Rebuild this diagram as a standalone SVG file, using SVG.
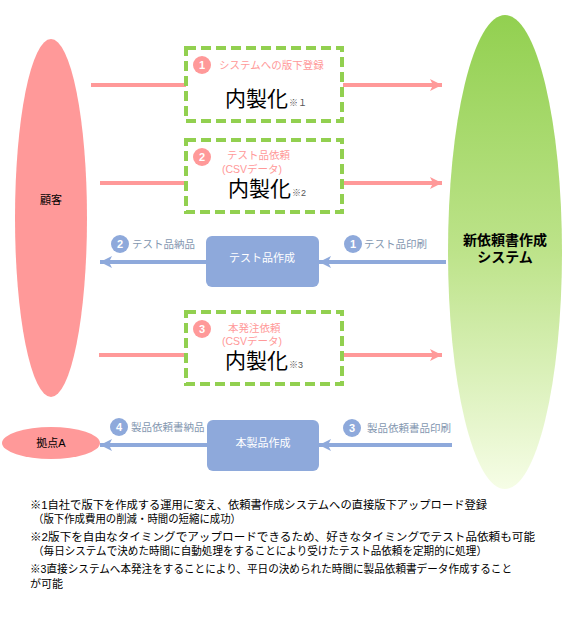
<svg xmlns="http://www.w3.org/2000/svg" width="568" height="634" viewBox="0 0 568 634">
<defs>
<linearGradient id="gsys" x1="0" y1="0" x2="0" y2="1">
<stop offset="0" stop-color="#92D050"/>
<stop offset="0.5" stop-color="#BDE38A"/>
<stop offset="1" stop-color="#F6FDE6"/>
</linearGradient>
<marker id="ap" markerUnits="userSpaceOnUse" markerWidth="14" markerHeight="14" refX="12" refY="7" orient="auto">
<path d="M0,1 L12,7 L0,13 L3,7 Z" fill="#FF9999"/>
</marker>
<marker id="ab" markerUnits="userSpaceOnUse" markerWidth="14" markerHeight="14" refX="12" refY="7" orient="auto">
<path d="M0,1 L12,7 L0,13 L3,7 Z" fill="#8EA9DB"/>
</marker>
<style>
text{font-family:"Liberation Sans","Noto Sans CJK JP",sans-serif;}
.pk{stroke:#FF9999;stroke-width:4;fill:none;}
.bl{stroke:#8EA9DB;stroke-width:4;fill:none;}
.dash{fill:#fff;stroke:#92D050;stroke-width:4;stroke-dasharray:10 5;}
.cp{fill:#FF9999;}
.cb{fill:#8EA9DB;}
.num{fill:#fff;font-size:11px;font-weight:bold;text-anchor:middle;}
.lp{fill:#FF9999;font-size:10.5px;}
.lb{fill:#8497B0;font-size:10.5px;}
.big{fill:#000;font-size:21px;}
.ref{fill:#555;font-size:9px;}
.wt{fill:#fff;font-size:11px;text-anchor:middle;}
.fn{fill:#000;font-size:11px;}
</style>
</defs>

<g id="connectors">
<line class="pk" x1="91" y1="85" x2="186" y2="85"/>
<line class="pk" x1="343" y1="85" x2="442" y2="85" marker-end="url(#ap)"/>
<line class="pk" x1="100" y1="183" x2="186" y2="183"/>
<line class="pk" x1="343" y1="183" x2="442" y2="183" marker-end="url(#ap)"/>
<line class="pk" x1="99" y1="355" x2="190" y2="355"/>
<line class="pk" x1="343" y1="355" x2="442" y2="355" marker-end="url(#ap)"/>
<line class="bl" x1="207" y1="262" x2="100" y2="262" marker-end="url(#ab)"/>
<line class="bl" x1="446" y1="262" x2="319" y2="262" marker-end="url(#ab)"/>
<line class="bl" x1="207" y1="445" x2="100" y2="445" marker-end="url(#ab)"/>
<line class="bl" x1="452" y1="445" x2="319" y2="445" marker-end="url(#ab)"/>
<circle class="cb" cx="120" cy="244" r="9"/><text class="num" x="120" y="248">2</text>
<text class="lb" x="132" y="248">テスト品納品</text>
<circle class="cb" cx="353" cy="244" r="9"/><text class="num" x="353" y="248">1</text>
<text class="lb" x="364" y="248">テスト品印刷</text>
<circle class="cb" cx="119" cy="427" r="9"/><text class="num" x="119" y="431">4</text>
<text class="lb" x="131" y="431">製品依頼書納品</text>
<circle class="cb" cx="352" cy="428" r="9"/><text class="num" x="352" y="432">3</text>
<text class="lb" x="367" y="432">製品依頼書品印刷</text>
</g>

<g id="customer">
<ellipse cx="51" cy="218" rx="36" ry="179" fill="#FF9999"/>
<text x="51" y="204" font-size="11" text-anchor="middle" fill="#000">顧客</text>
</g>

<g id="system">
<ellipse cx="505" cy="252" rx="57" ry="237" fill="url(#gsys)"/>
<text x="505" y="245" font-size="14" font-weight="bold" text-anchor="middle" fill="#000">新依頼書作成</text>
<text x="505" y="262" font-size="14" font-weight="bold" text-anchor="middle" fill="#000">システム</text>
</g>

<g id="step1">
<rect class="dash" x="186" y="48" width="156" height="73"/>
<circle class="cp" cx="202" cy="65" r="9"/><text class="num" x="202" y="69">1</text>
<text class="lp" x="219" y="69">システムへの版下登録</text>
<text class="big" x="225" y="106">内製化<tspan class="ref" dx="1">※１</tspan></text>
</g>

<g id="step2">
<rect class="dash" x="186" y="140" width="156" height="72"/>
<circle class="cp" cx="202" cy="157" r="9"/><text class="num" x="202" y="161">2</text>
<text class="lp" x="227" y="159">テスト品依頼</text>
<text class="lp" x="222" y="173">(CSVデータ)</text>
<text class="big" x="228" y="196">内製化<tspan class="ref" dx="1">※2</tspan></text>
</g>

<g id="step3">
<rect class="dash" x="186" y="312" width="156" height="72"/>
<circle class="cp" cx="202" cy="329" r="9"/><text class="num" x="202" y="333">3</text>
<text class="lp" x="228" y="332">本発注依頼</text>
<text class="lp" x="222" y="345">(CSVデータ)</text>
<text class="big" x="225" y="368">内製化<tspan class="ref" dx="1">※3</tspan></text>
</g>

<g id="test-make">
<rect x="206" y="236" width="113" height="51" rx="6" fill="#8EA9DB"/>
<text class="wt" x="262" y="262">テスト品作成</text>
</g>

<g id="prod-make">
<rect x="207" y="420" width="112" height="51" rx="6" fill="#8EA9DB"/>
<text class="wt" x="263" y="447">本製品作成</text>
</g>

<g id="siteA">
<ellipse cx="51" cy="443" rx="49" ry="16" fill="#FF9999"/>
<text x="51" y="447" font-size="11" text-anchor="middle" fill="#000">拠点A</text>
</g>

<g id="notes">
<text class="fn" x="30" y="509" textLength="457" lengthAdjust="spacingAndGlyphs">※1自社で版下を作成する運用に変え、依頼書作成システムへの直接版下アップロード登録</text>
<text class="fn" x="33" y="523" textLength="208" lengthAdjust="spacingAndGlyphs">（版下作成費用の削減・時間の短縮に成功）</text>
<text class="fn" x="30" y="541" textLength="505" lengthAdjust="spacingAndGlyphs">※2版下を自由なタイミングでアップロードできるため、好きなタイミングでテスト品依頼も可能</text>
<text class="fn" x="33" y="555" textLength="454" lengthAdjust="spacingAndGlyphs">（毎日システムで決めた時間に自動処理をすることにより受けたテスト品依頼を定期的に処理）</text>
<text class="fn" x="30" y="573" textLength="482" lengthAdjust="spacingAndGlyphs">※3直接システムへ本発注をすることにより、平日の決められた時間に製品依頼書データ作成すること</text>
<text class="fn" x="30" y="588">が可能</text>
</g>
</svg>
